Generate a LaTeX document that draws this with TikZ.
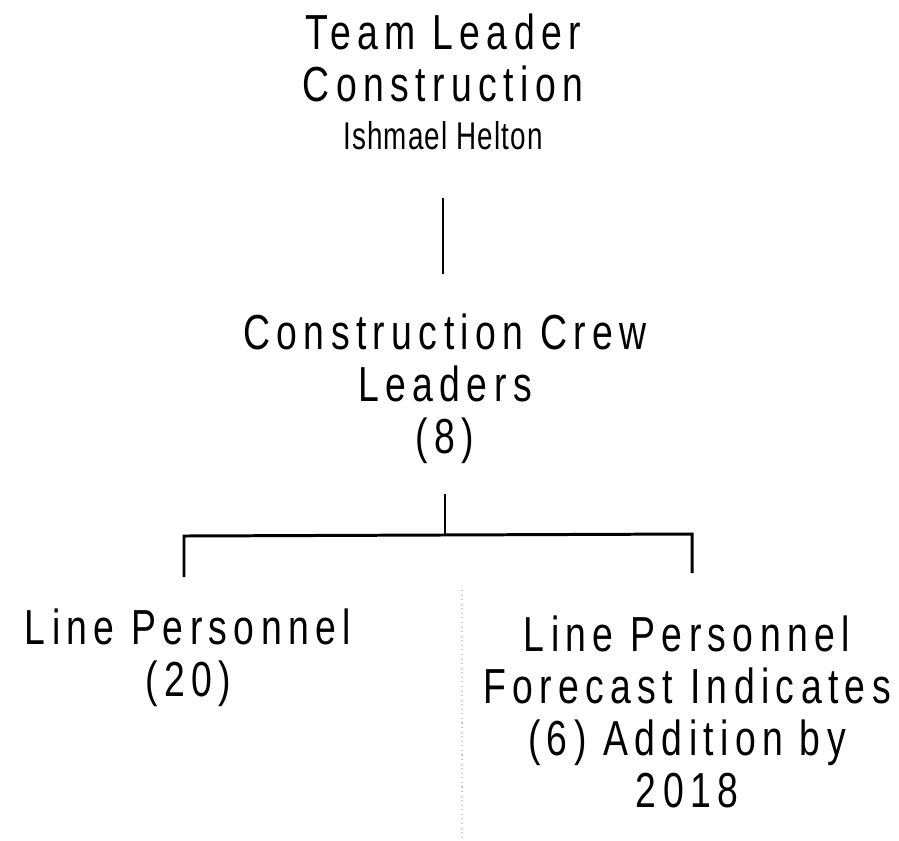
\documentclass[tikz,border=0pt]{standalone}
\usepackage{fontspec}
\usepackage{tikz}
\newfontfamily\orgfont[FakeStretch=0.76,LetterSpace=13]{Liberation Sans}
\newfontfamily\namefont[FakeStretch=0.72,LetterSpace=3]{Liberation Sans}
\tikzset{
  post/.style={anchor=north, inner sep=0pt, align=center,
    font=\orgfont\fontsize{28}{29.6}\selectfont},
  wire/.style={line width=1.7pt},
}

\begin{document}
\begin{tikzpicture}[x=0.02cm,y=-0.02cm]
\useasboundingbox (0,0) rectangle (899,840);

\node[post] (lead) at (443,13) {Team Leader\\Construction\\[-2pt]%
  {\namefont\fontsize{22}{24}\selectfont Ishmael Helton}};
\node[post] (crew) at (445,313) {Construction Crew\\Leaders\\(8)};
\node[post] (lineA) at (188,608) {Line Personnel\\(20)};
\node[post] (lineB) at (687,615) {Line Personnel\\Forecast Indicates\\(6) Addition by\\2018};

\coordinate (bl) at (184,536);
\coordinate (br) at (692,534);
\coordinate (dl) at (184,577);
\coordinate (dr) at (692,573);

\draw[wire, shorten <=0.95cm, shorten >=0.78cm] (lead.south) -- (lead.south |- crew.north);
\draw[wire, shorten <=0.6cm] (crew.south) -- (crew.south |- bl);
\draw[wire] (dl) -- (bl) -- (br) -- (dr);

% scan trace between the two lower boxes
\draw[gray!45, dotted, line width=0.6pt] (462,590) -- (462,840);
\end{tikzpicture}
\end{document}
